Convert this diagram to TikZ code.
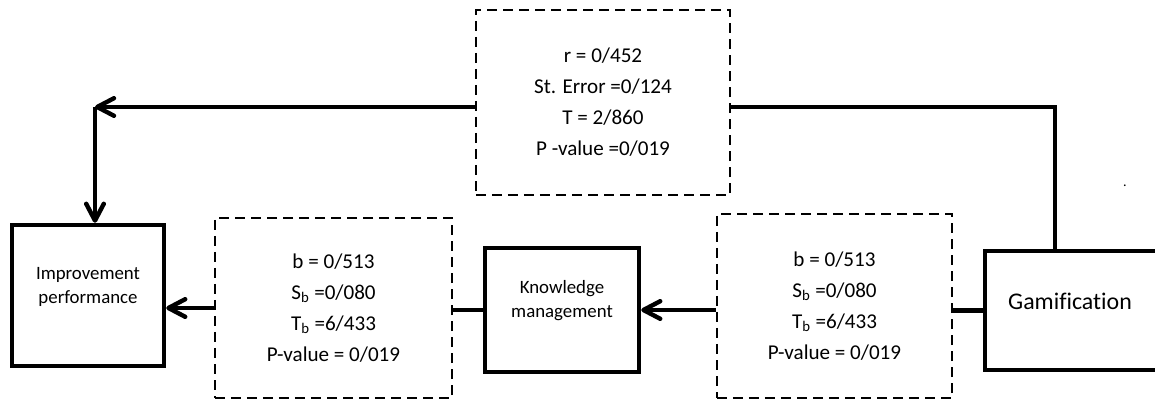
\documentclass[tikz,border=0pt]{standalone}
\usepackage{fontspec}
\setmainfont[Ligatures=NoCommon]{Carlito}
\usetikzlibrary{arrows.meta}

\tikzset{
	mainbox/.style={draw, line width=0.11cm, rectangle, inner sep=0pt},
	databox/.style={draw, line width=0.045cm, dash pattern=on 0.25cm off 0.15cm, rectangle, inner sep=0pt, align=center, font=\fontsize{15}{22}\selectfont},
	boxtext/.style={align=center, font=\fontsize{13.4}{17}\selectfont},
	link/.style={line width=0.11cm},
	arrow/.style={line width=0.11cm, -{Straight Barb[round, length=0.42cm, width=0.44cm]}}
}

\begin{document}
\begin{tikzpicture}[x=0.025cm, y=-0.025cm]
					\useasboundingbox (0,0) rectangle (1155,400);
					
					% variable boxes
					\node[mainbox, minimum width=3.8cm, minimum height=3.525cm] (imp) at (88,295.5) {};
					\node[mainbox, minimum width=3.85cm, minimum height=3.1cm] (know) at (562,310) {};
					\node[mainbox, minimum width=4.375cm, minimum height=2.975cm] (gam) at (1072.5,310.5) {};
					
					\node[boxtext] (imptext) at (88,287) {Improvement\\performance};
					\node[boxtext] (knowtext) at (562,301) {Knowledge\\management};
					\node[boxtext, font=\fontsize{17}{21}\selectfont] (gamtext) at (1070,301) {Gamification};
					
					% coefficient boxes
					\node[databox, minimum width=6.35cm, minimum height=4.625cm] (topbox) at (603,102.5) {r = 0/452\\St. Error =0/124\\T = 2/860\\P -value =0/019};
					\node[databox, minimum width=5.925cm, minimum height=4.5cm] (leftbox) at (333.5,308) {b = 0/513\\S\textsubscript{b} =0/080\\T\textsubscript{b} =6/433\\P-value = 0/019};
					\node[databox, minimum width=5.875cm, minimum height=4.6cm] (rightbox) at (834.5,306) {b = 0/513\\S\textsubscript{b} =0/080\\T\textsubscript{b} =6/433\\P-value = 0/019};
					
					\node (dot) at (1125,186) {.};
					
					\coordinate (bend) at (95,107);
					\coordinate (gamin) at (1055,107);
					
					% direct path
					\draw[link] (bend -| topbox.east) -- (gamin) -- (gamin |- gam.north);
					\draw[arrow] (bend -| topbox.west) -- (bend);
					\draw[arrow] (bend) -- (bend |- imp.north);
					
					% mediated path
					\draw[link] (gam.west) -- (gam.west -| rightbox.east);
					\draw[arrow] (know.east -| rightbox.west) -- (know.east);
					\draw[link] (know.west) -- (know.west -| leftbox.east);
					\draw[arrow] (leftbox.west) -- (leftbox.west -| imp.east);
\end{tikzpicture}
\end{document}
